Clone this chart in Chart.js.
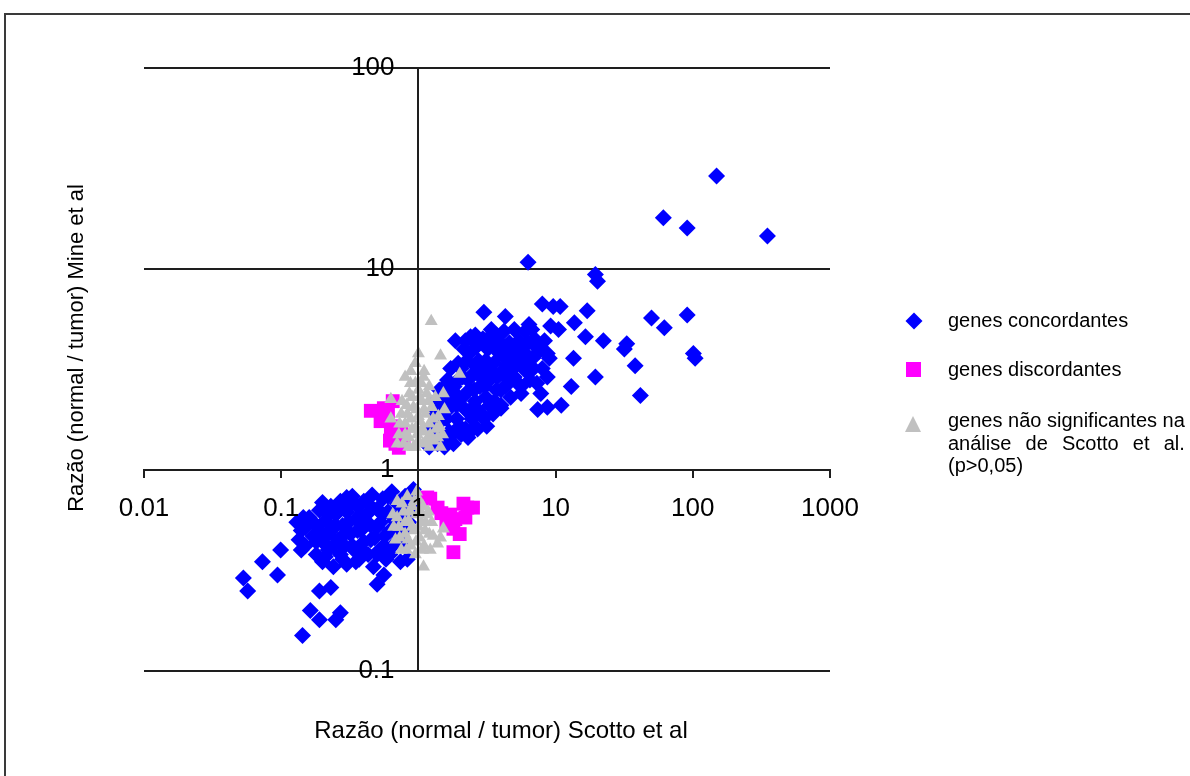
<!DOCTYPE html>
<html><head><meta charset="utf-8">
<script src="https://cdn.jsdelivr.net/npm/chart.js@4.4.1/dist/chart.umd.min.js"></script>
<style>
html,body{margin:0;padding:0;background:#fff;}
#wrap{position:relative;width:1190px;height:776px;overflow:hidden;background:#fff;}
#frame{position:absolute;left:4px;top:13px;width:1300px;height:900px;border-top:2px solid #3a3a3a;border-left:2px solid #3a3a3a;pointer-events:none;}
canvas{position:absolute;left:0;top:0;}
</style></head>
<body><div id="wrap"><canvas id="c" width="1190" height="776"></canvas><div id="frame"></div></div>
<script>
const seriesNames = ['genes concordantes', 'genes discordantes', 'genes não significantes na análise de Scotto et al. (p>0,05)'];
const xTitle = 'Razão (normal / tumor) Scotto et al';
const yTitle = 'Razão (normal / tumor) Mine et al';
const xTickValues = [0.01, 0.1, 1, 10, 100, 1000];
const xTickLabels = ['0.01', '0.1', '1', '10', '100', '1000'];
const yTickValues = [0.1, 1, 10, 100];
const yTickLabels = ['0.1', '1', '10', '100'];

const concordantPoints = [
 [149,29],[61,18],[91,16],[350,14.6],[6.3,10.8],[19.5,9.4],[20.2,8.7],[8.0,6.7],[9.6,6.5],[10.8,6.5],[17,6.2],[4.3,5.8],[50,5.7],[91,5.9],[6.4,5.3],[9.2,5.2],[10.5,5.0],[13.7,5.4],[62,5.1],[16.5,4.6],[22.3,4.4],[33,4.25],[31.7,4.0],[38,3.3],[101,3.8],[104,3.6],[8.7,3.8],[19.5,2.9],[13,2.6],[41.5,2.35],[5.6,2.4],[7.4,2.0],[8.7,2.05],[11,2.1],[4.0,2.03],[2.5,4.4],[3.2,4.5],[13.5,3.6],
 [1.2,1.3],[1.22,1.6],[1.28,1.45],[1.3,1.9],[1.33,2.2],[1.38,1.35],[1.4,1.7],[1.42,2.5],[1.48,2.0],[1.5,1.5],
 [1.55,1.3],[1.58,2.3],[1.6,1.8],[1.63,2.8],[1.68,1.55],[1.72,3.2],[1.75,2.1],[1.8,1.35],[1.82,2.6],[1.86,4.4],[1.9,1.8],[1.95,3.4],[1.98,2.3],
 [2.05,1.5],[2.1,2.9],[2.15,4.0],[2.2,2.0],[2.25,3.5],[2.3,1.45],[2.35,2.5],[2.4,4.6],[2.45,1.8],[2.5,3.0],[2.6,2.2],[2.65,4.1],[2.7,1.6],[2.75,3.5],[2.8,2.6],[2.9,1.9],[2.95,4.5],[3.0,6.1],[3.0,3.1],
 [3.1,2.3],[3.15,1.65],[3.2,4.0],[3.3,2.8],[3.4,5.0],[3.5,1.9],[3.55,3.4],[3.7,2.5],[3.8,4.4],[3.9,3.0],[4.0,2.1],[4.1,3.7],[4.2,4.9],[4.3,2.6],[4.4,3.3],
 [4.6,4.3],[4.7,2.3],[4.8,3.8],[5.0,2.9],[5.0,5.0],[5.2,3.4],[5.4,4.4],[5.6,2.6],[5.8,3.9],[6.0,4.9],[6.1,3.1],[6.3,4.3],[6.5,2.8],
 [6.8,3.6],[7.0,4.5],[7.3,2.7],[7.6,3.9],[8.0,3.2],[8.3,4.4],[8.7,2.9],[9.0,3.6],[7.8,2.4],[6.7,5.0],
 [1.25,1.4],[1.35,1.6],[1.45,1.4],[1.5,1.8],[1.55,2.6],[1.65,2.0],[1.7,1.4],[1.75,2.4],[1.85,1.55],[1.9,2.1],[1.95,2.8],[2.0,1.65],[2.05,3.2],[2.1,2.3],[2.2,1.6],[2.3,2.8],[2.35,3.8],[2.4,2.0],[2.5,1.6],[2.55,2.5],[2.6,3.3],[2.7,2.0],[2.8,4.3],[2.85,2.9],[3.0,1.8],[3.05,2.6],[3.1,3.5],[3.3,2.1],[3.4,3.1],[3.5,4.2],[3.6,2.2],[3.75,2.9],[3.9,3.8],[4.0,2.5],[4.2,3.0],[4.3,4.1],[4.5,2.8],[4.6,3.6],[4.9,3.2],[5.1,4.2],[5.3,2.7],[5.5,3.7],[5.8,3.3],[6.0,4.2],[6.4,3.6],[6.9,3.2],[7.2,4.1],[2.2,4.4],[2.6,4.7],[3.7,4.7],
 [0.20,0.69],[0.30,0.73],[0.145,0.58],[0.099,0.40],[0.073,0.35],[0.094,0.30],[0.053,0.29],[0.057,0.25],[0.19,0.25],[0.23,0.26],[0.50,0.27],[0.56,0.30],[0.163,0.20],[0.19,0.18],[0.27,0.195],[0.25,0.18],[0.143,0.15],[0.83,0.36],[0.92,0.80],
 [0.13,0.55],[0.135,0.45],[0.14,0.5],[0.15,0.42],[0.16,0.58],[0.17,0.47],[0.18,0.38],[0.18,0.53],[0.19,0.63],[0.2,0.44],[0.2,0.35],
 [0.21,0.56],[0.22,0.4],[0.23,0.66],[0.23,0.5],[0.24,0.33],[0.25,0.6],[0.26,0.45],[0.27,0.38],[0.27,0.7],[0.28,0.53],[0.29,0.42],[0.3,0.62],[0.3,0.34],
 [0.32,0.48],[0.33,0.74],[0.34,0.4],[0.35,0.57],[0.36,0.66],[0.37,0.36],[0.38,0.5],[0.4,0.44],[0.4,0.7],[0.42,0.6],[0.43,0.38],[0.45,0.53],[0.46,0.75],[0.47,0.33],[0.48,0.46],[0.5,0.64],
 [0.52,0.4],[0.53,0.55],[0.55,0.72],[0.57,0.47],[0.58,0.36],[0.6,0.62],[0.62,0.5],[0.64,0.78],[0.65,0.42],[0.67,0.56],[0.7,0.68],[0.72,0.45],[0.74,0.35],[0.76,0.6],[0.78,0.5],[0.8,0.74],[0.85,0.55],[0.88,0.65],
 [0.14,0.4],[0.15,0.52],[0.17,0.55],[0.18,0.44],[0.19,0.5],[0.21,0.37],[0.22,0.48],[0.22,0.6],[0.24,0.42],[0.25,0.53],[0.26,0.66],[0.28,0.36],[0.29,0.48],[0.31,0.55],[0.32,0.68],[0.33,0.42],[0.35,0.35],[0.36,0.5],[0.38,0.6],[0.39,0.4],[0.41,0.53],[0.43,0.68],[0.45,0.45],[0.5,0.38],[0.5,0.52],[0.55,0.6],[0.56,0.42],[0.6,0.74],[0.62,0.38],[0.66,0.5],[0.7,0.58],[0.75,0.7],[0.8,0.42],[0.82,0.62]
];

const discordantPoints = [
 [0.45,1.97],[0.56,2.03],[0.53,1.75],[0.63,1.56],[0.68,1.35],[0.72,1.29],[0.65,2.2],[0.78,1.44],[0.6,1.9],[0.66,1.65],[0.75,1.6],[0.62,1.4],
 [1.16,0.73],[1.22,0.72],[1.38,0.65],[1.47,0.61],[1.71,0.60],[1.86,0.57],[2.13,0.68],[2.27,0.65],[2.5,0.65],[1.8,0.51],[2.0,0.48],[1.8,0.39],[1.6,0.55],[2.2,0.58]
];

const nonSignificantPoints = [
 [1.24,5.5],[1.0,3.8],[0.95,3.4],[1.45,3.7],[0.80,2.9],[0.875,2.7],[1.09,2.9],[2.0,3.0],[1.52,2.4],[0.63,2.25],[0.63,1.8],
 [0.72,1.5],[0.75,1.9],[0.78,1.35],[0.8,1.7],[0.82,2.1],[0.85,1.45],[0.88,1.8],[0.9,2.3],[0.92,1.3],[0.95,1.6],[0.97,2.0],[1.0,1.4],[1.0,2.5],[1.03,1.75],[1.05,2.2],[1.08,1.35],[1.1,1.55],[1.12,1.9],[1.15,2.4],[1.18,1.45],[1.2,1.7],[1.25,2.05],[1.3,1.4],[1.35,1.6],[1.4,1.85],[1.45,1.3],[1.5,1.5],[1.1,3.1],[0.95,2.7],[1.2,2.6],[1.55,2.0],
 [0.7,1.35],[0.73,1.7],[0.76,2.2],[0.8,1.5],[0.83,1.9],[0.86,2.4],[0.9,1.6],[0.92,2.05],[0.98,1.5],[1.0,1.85],[1.02,2.3],[1.06,1.6],[1.1,2.0],[1.14,1.4],[1.18,2.2],[1.22,1.5],[1.28,1.8],[1.33,2.3],[1.38,1.45],[1.42,1.65],[0.88,3.1],[1.05,2.7],[0.85,1.3],[1.2,1.3],[0.95,1.3],
 [0.65,0.6],[0.68,0.45],[0.7,0.7],[0.72,0.52],[0.75,0.4],[0.78,0.62],[0.8,0.48],[0.83,0.74],[0.85,0.56],[0.88,0.42],[0.9,0.66],[0.93,0.5],[0.95,0.38],[0.98,0.6],[1.0,0.72],[1.02,0.46],[1.05,0.55],[1.08,0.66],[1.1,0.42],[1.12,0.5],[1.15,0.6],[1.2,0.48],[1.25,0.55],[1.52,0.51],[1.38,0.43],[1.22,0.4],[1.09,0.33],[1.45,0.46],
 [0.66,0.52],[0.7,0.58],[0.73,0.46],[0.76,0.68],[0.8,0.55],[0.84,0.45],[0.87,0.62],[0.9,0.52],[0.93,0.7],[0.96,0.44],[1.0,0.52],[1.04,0.62],[1.07,0.4],[1.13,0.55],[1.18,0.62],[1.28,0.47],[0.97,0.78],[0.82,0.4]
];

const seriesColors = ['#0000ff', '#ff00ff', '#c0c0c0'];
const FONT = '"Liberation Sans", Arial, sans-serif';
const LINE = '#1e1e1e';

const toXY = arr => arr.map(p => ({x: p[0], y: p[1]}));

const textPlugin = {
  id: 'texts',
  afterDraw(chart) {
    const ctx = chart.ctx;
    ctx.save();
    ctx.fillStyle = '#000';
    ctx.font = '24px ' + FONT;
    ctx.textAlign = 'center';
    ctx.textBaseline = 'alphabetic';
    ctx.fillText(xTitle, 501, 738);
    ctx.save();
    ctx.translate(83, 348);
    ctx.rotate(-Math.PI / 2);
    ctx.font = '22px ' + FONT;
    ctx.fillText(yTitle, 0, 0);
    ctx.restore();

    ctx.fillStyle = seriesColors[0];
    ctx.beginPath();
    ctx.moveTo(914, 312.5); ctx.lineTo(922.5, 321); ctx.lineTo(914, 329.5); ctx.lineTo(905.5, 321);
    ctx.closePath(); ctx.fill();
    ctx.fillStyle = seriesColors[1];
    ctx.fillRect(906, 362, 15, 15);
    ctx.fillStyle = seriesColors[2];
    ctx.beginPath();
    ctx.moveTo(913, 416); ctx.lineTo(921, 432); ctx.lineTo(905, 432);
    ctx.closePath(); ctx.fill();

    ctx.fillStyle = '#000';
    ctx.font = '20px ' + FONT;
    ctx.textAlign = 'left';
    ctx.textBaseline = 'alphabetic';
    const lx = 948;
    ctx.fillText(seriesNames[0], lx, 327);
    ctx.fillText(seriesNames[1], lx, 376);
    const line1 = 'genes não significantes na';
    const line2Words = ['análise', 'de', 'Scotto', 'et', 'al.'];
    const line3 = '(p>0,05)';
    ctx.fillText(line1, lx, 427);
    const target = ctx.measureText(line1).width;
    const widths = line2Words.map(w => ctx.measureText(w).width);
    const total = widths.reduce((a, b) => a + b, 0);
    const gap = (target - total) / (line2Words.length - 1);
    let cx = lx;
    line2Words.forEach((w, i) => { ctx.fillText(w, cx, 450); cx += widths[i] + gap; });
    ctx.fillText(line3, lx, 472);
    ctx.restore();
  }
};

new Chart(document.getElementById('c'), {
  type: 'scatter',
  data: {
    datasets: [
      { label: seriesNames[0], data: toXY(concordantPoints), pointStyle: 'rectRot', pointRadius: 8.5,
        backgroundColor: seriesColors[0], borderColor: seriesColors[0], borderWidth: 0, order: 3 },
      { label: seriesNames[1], data: toXY(discordantPoints), pointStyle: 'rect', pointRadius: 9.8,
        backgroundColor: seriesColors[1], borderColor: seriesColors[1], borderWidth: 0, order: 2 },
      { label: seriesNames[2], data: toXY(nonSignificantPoints), pointStyle: 'triangle', pointRadius: 7.5,
        backgroundColor: seriesColors[2], borderColor: seriesColors[2], borderWidth: 0, order: 1 }
    ]
  },
  options: {
    responsive: false,
    animation: false,
    devicePixelRatio: 1,
    events: [],
    layout: { padding: { left: 144, right: 360, top: 68, bottom: 105 } },
    plugins: { legend: { display: false }, tooltip: { enabled: false }, title: { display: false } },
    scales: {
      x: {
        type: 'logarithmic', min: 0.01, max: 1000, position: { y: 1 },
        afterBuildTicks: s => { s.ticks = xTickValues.map(v => ({ value: v })); },
        ticks: { autoSkip: false, maxRotation: 0, minRotation: 0, padding: 16, color: '#000', z: 1,
                 font: { family: FONT, size: 26 }, callback: (v, i) => xTickLabels[i] },
        grid: { drawOnChartArea: true, z: 1, lineWidth: 2, tickLength: 7, tickWidth: 2, tickColor: LINE,
                color: c => (c.tick && c.tick.value === 1) ? LINE : 'rgba(0,0,0,0)' },
        border: { display: true, color: LINE, width: 2, z: 1 }
      },
      y: {
        type: 'logarithmic', min: 0.1, max: 100, position: { x: 0.67 },
        afterBuildTicks: s => { s.ticks = yTickValues.map(v => ({ value: v })); },
        ticks: { autoSkip: false, color: '#000', z: 1, font: { family: FONT, size: 26 },
                 callback: (v, i) => yTickLabels[i] },
        grid: { drawOnChartArea: true, drawTicks: false, color: LINE, lineWidth: 2 },
        border: { display: false }
      }
    }
  },
  plugins: [textPlugin]
});
</script>
</body></html>
